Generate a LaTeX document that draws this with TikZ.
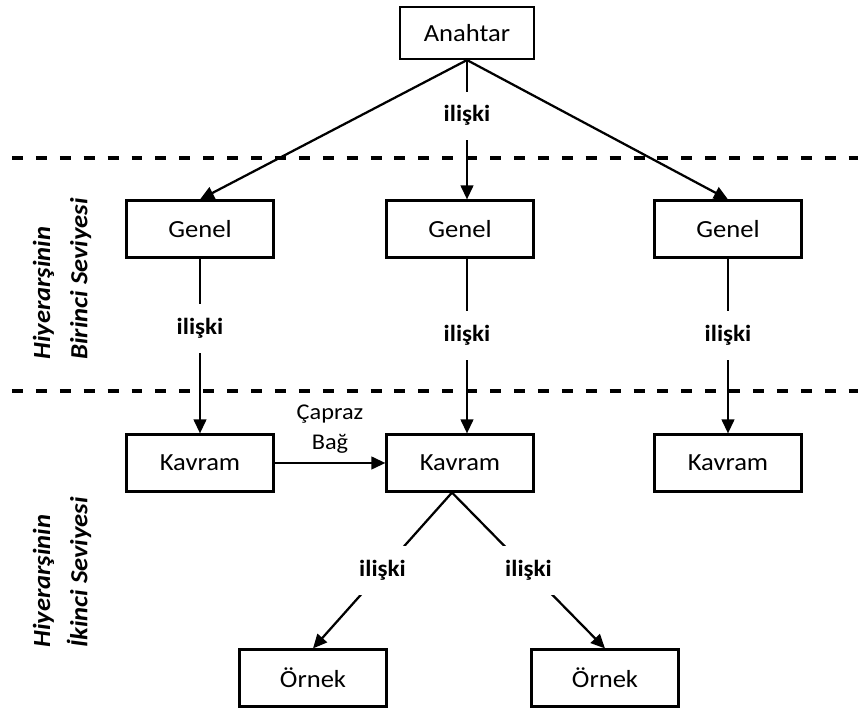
\documentclass[tikz,border=0pt]{standalone}
\usepackage{fontspec}
\setmainfont[FakeStretch=1.08]{Carlito}
\usetikzlibrary{arrows.meta}

\begin{document}
\begin{tikzpicture} [x = 0.025cm, y = -0.025cm,
  box/.style = {draw, line width = 1.5pt, minimum width = 3.675cm, minimum height = 1.425cm, font = \fontsize{17.5}{20}\selectfont},
  rel/.style = {fill = white, inner xsep = 2pt, inner ysep = 10pt, font = \bfseries\fontsize{16.5}{19}\selectfont},
  arr/.style = {line width = 1.6pt, -{Triangle[length = 10pt, width = 9pt]}},
  level/.style = {rotate = 90, anchor = west, align = left, inner sep = 0pt, font = \bfseries\itshape\fontsize{17.5}{26.5}\selectfont},
  sep/.style = {line width = 2.2pt, dash pattern = on 7.8pt off 9.2pt}]
\useasboundingbox (0, 0) rectangle (858, 708);
\draw[sep] (12, 158) -- (858, 158);
\draw[sep] (12, 391) -- (858, 391);
\node[level] (lev1) at (62, 360) {Hiyerarşinin\\Birinci Seviyesi};
\node[level] (lev2) at (62, 648) {Hiyerarşinin\\İkinci Seviyesi};
\node[box, minimum width = 3.35cm, minimum height = 1.3cm] (a) at (467, 33) {Anahtar};
\node[box] (g1) at (200, 229) {Genel};
\node[box] (g2) at (460, 229) {Genel};
\node[box] (g3) at (728, 229) {Genel};
\node[box] (k1) at (200, 463) {Kavram};
\node[box] (k2) at (460, 463) {Kavram};
\node[box] (k3) at (728, 463) {Kavram};
\node[box] (o1) at (313, 678) {Örnek};
\node[box] (o2) at (605, 678) {Örnek};
\draw[arr] (a.south) -- (g1.north);
\draw[arr] (a.south) -- (g3.north);
\draw[arr] (a.south) -- node[rel, pos = 0.4] {ilişki} (a.south |- g2.north);
\draw[arr] (g1.south) -- node[rel, pos = 0.4] {ilişki} (k1.north);
\draw[arr] (g2.south -| a.south) -- node[rel, pos = 0.44] {ilişki} (k2.north -| a.south);
\draw[arr] (g3.south) -- node[rel, pos = 0.44] {ilişki} (k3.north);
\draw[arr] (k1.east) -- node[above = 3pt, align = center, font = \fontsize{16}{21}\selectfont] {Çapraz\\Bağ} (k2.west);
\draw[arr] ([xshift = -0.2cm]k2.south) -- node[rel] {ilişki} (o1.north);
\draw[arr] ([xshift = -0.2cm]k2.south) -- node[rel] {ilişki} (o2.north);
\end{tikzpicture}
\end{document}
